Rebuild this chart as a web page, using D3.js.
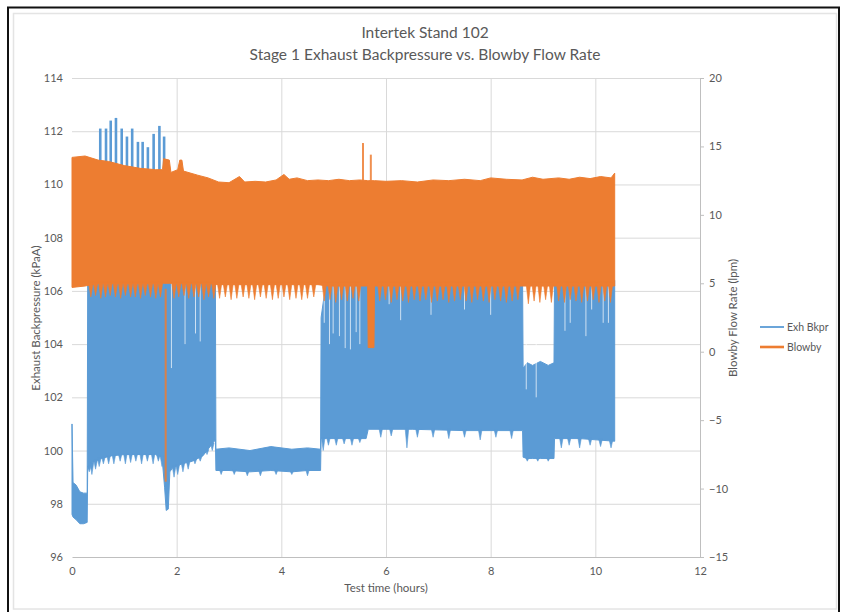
<!DOCTYPE html>
<html>
<head>
<meta charset="utf-8">
<script src="https://cdn.jsdelivr.net/npm/d3@7"></script>
<style>
  body { margin: 0; background: #fff; }
  text { font-family: Lato, "Open Sans", sans-serif; fill: #595959; }
</style>
</head>
<body>
<div id="chart"></div>
<script>
// ---- data ----
const xTicks = [0, 2, 4, 6, 8, 10, 12];
const leftTicks = [96, 98, 100, 102, 104, 106, 108, 110, 112, 114];
const rightTicks = [-15, -10, -5, 0, 5, 10, 15, 20];

// Exhaust backpressure (kPaA): envelope of the dense trace
const blueT  = [0.00, 0.02, 0.08, 0.15, 0.22, 0.29, 0.30, 0.40, 0.55, 0.75, 1.00, 1.30, 1.60, 1.72, 1.77, 1.80, 1.84, 1.87, 1.92, 2.10, 2.30, 2.50, 2.62, 2.70, 2.74, 2.75, 3.00, 3.40, 3.80, 4.20, 4.50, 4.75, 4.76, 4.86, 5.20, 5.62, 5.66, 6.50, 7.50, 8.61, 8.62, 8.70, 8.80, 8.95, 9.10, 9.21, 9.22, 9.70, 10.37];
const blueLo = [97.6, 97.5, 97.4, 97.25, 97.25, 97.3, 99.3, 99.55, 99.7, 99.8, 99.85, 99.85, 99.85, 99.75, 98.6, 97.75, 97.8, 99.2, 99.35, 99.5, 99.6, 99.8, 100.1, 100.3, 100.4, 99.25, 99.25, 99.2, 99.25, 99.2, 99.25, 99.25, 100.45, 100.45, 100.45, 100.45, 100.8, 100.8, 100.75, 100.75, 99.75, 99.7, 99.7, 99.7, 99.7, 99.7, 100.45, 100.45, 100.35];
const blueHi = [101.0, 98.8, 98.7, 98.45, 98.4, 98.4, 106.4, 106.4, 106.4, 106.4, 106.4, 106.4, 106.4, 106.4, 106.4, 106.4, 106.4, 106.4, 106.3, 106.3, 106.3, 106.3, 106.3, 106.3, 106.3, 100.05, 100.1, 100.0, 100.15, 100.05, 100.1, 100.05, 105.0, 106.4, 106.4, 106.4, 106.4, 106.4, 106.4, 106.4, 103.1, 103.3, 103.2, 103.35, 103.2, 103.3, 106.4, 106.4, 106.4];
// isolated peaks above the band
const blueSpikeT   = [0.54, 0.65, 0.74, 0.84, 0.95, 1.05, 1.15, 1.26, 1.35, 1.45, 1.56, 1.67, 1.76];
const blueSpikeTop = [112.1, 112.1, 112.4, 112.5, 112.1, 111.8, 112.1, 111.6, 111.6, 111.4, 111.9, 112.2, 111.8];
// dips below the band's lower edge
const blueDipT   = [0.33, 0.38, 0.45, 0.52, 0.60, 0.70, 0.80, 0.92, 1.02, 1.12, 1.22, 1.33, 1.44, 1.55, 1.65, 1.72, 1.95, 2.02, 2.12, 2.22, 2.35, 2.45, 2.58, 2.68, 2.85, 3.10, 3.35, 3.60, 3.90, 4.20, 4.50, 4.80, 4.90, 5.05, 5.20, 5.35, 5.50, 5.90, 6.10, 6.40, 6.60, 6.90, 7.20, 7.50, 7.80, 8.10, 8.40, 8.70, 8.90, 9.10, 9.35, 9.50, 9.70, 9.90, 10.10, 10.30];
const blueDipLow = [99.2, 99.1, 99.3, 99.4, 99.5, 99.5, 99.5, 99.6, 99.5, 99.55, 99.6, 99.5, 99.6, 99.5, 99.6, 99.4, 99.0, 99.1, 99.2, 99.3, 99.5, 99.6, 99.85, 100.0, 99.1, 99.1, 99.05, 99.05, 99.1, 99.1, 99.05, 100.0, 100.2, 100.2, 100.25, 100.2, 100.3, 100.5, 100.55, 100.1, 100.5, 100.5, 100.45, 100.5, 100.4, 100.5, 100.45, 99.6, 99.6, 99.6, 100.1, 100.2, 100.1, 100.2, 100.15, 100.1];
// thin gaps reaching down into the band from its top
const blueGapT   = [1.90, 2.16, 2.36, 2.45, 4.82, 4.92, 4.99, 5.11, 5.22, 5.32, 5.43, 5.50, 6.06, 6.28, 6.86, 7.50, 8.00, 8.68, 8.87, 9.42, 9.52, 9.82, 9.93, 10.15, 10.25];
const blueGapLow = [103.1, 104.0, 104.4, 104.1, 104.8, 104.0, 104.4, 104.3, 103.85, 103.8, 104.45, 104.0, 105.5, 104.9, 105.1, 105.3, 105.1, 102.3, 102.0, 104.5, 104.8, 104.3, 105.3, 104.8, 104.8];

// Blowby flow rate (lpm): envelope of the dense trace
const orangeT  = [0.00, 0.25, 0.50, 0.70, 1.00, 1.30, 1.60, 1.73, 1.75, 1.86, 1.89, 2.02, 2.06, 2.10, 2.13, 2.40, 2.60, 2.80, 3.00, 3.20, 3.30, 3.50, 3.70, 3.90, 4.05, 4.15, 4.30, 4.50, 4.70, 4.90, 5.10, 5.30, 5.50, 5.65, 5.66, 5.77, 5.78, 6.00, 6.30, 6.60, 6.90, 7.20, 7.50, 7.80, 8.00, 8.30, 8.60, 8.80, 9.00, 9.30, 9.50, 9.70, 9.90, 10.10, 10.30, 10.37];
const orangeLo = [4.7, 4.8, 5.0, 5.0, 5.0, 5.0, 5.0, 5.0, 5.0, 5.0, 5.0, 5.0, 5.0, 5.0, 5.0, 5.0, 5.0, 4.9, 4.9, 4.9, 4.9, 4.9, 4.9, 4.9, 4.9, 4.9, 4.9, 4.9, 4.9, 4.8, 4.8, 4.8, 4.8, 4.8, 0.3, 0.3, 4.8, 4.8, 4.8, 4.8, 4.8, 4.8, 4.8, 4.8, 4.8, 4.8, 4.8, 4.8, 4.8, 4.8, 4.8, 4.8, 4.8, 4.8, 4.8, 4.8];
const orangeHi = [14.2, 14.3, 14.0, 13.9, 13.6, 13.4, 13.3, 13.3, 14.1, 14.0, 13.1, 13.3, 14.0, 14.0, 13.2, 12.9, 12.7, 12.4, 12.35, 12.8, 12.4, 12.45, 12.4, 12.55, 12.95, 12.6, 12.7, 12.5, 12.55, 12.5, 12.6, 12.5, 12.55, 12.5, 12.5, 12.5, 12.5, 12.45, 12.5, 12.4, 12.55, 12.5, 12.6, 12.5, 12.7, 12.6, 12.55, 12.75, 12.6, 12.7, 12.6, 12.75, 12.65, 12.8, 12.7, 13.05];
// downward teeth along the lower edge
const orangeToothT = [0.36, 0.45, 0.55, 0.64, 0.73, 0.83, 0.93, 1.02, 1.12, 1.21, 1.31, 1.40, 1.50, 1.60, 1.69, 1.95, 2.04, 2.14, 2.23, 2.33, 2.42, 2.52, 2.61, 2.71, 2.82, 2.93, 3.04, 3.15, 3.27, 3.38, 3.49, 3.60, 3.71, 3.83, 3.94, 4.05, 4.16, 4.28, 4.39, 4.50, 4.62, 4.82, 4.93, 5.04, 5.15, 5.26, 5.37, 5.48, 5.88, 5.99, 6.10, 6.21, 6.32, 6.43, 6.54, 6.65, 6.76, 6.87, 6.98, 7.09, 7.20, 7.31, 7.42, 7.53, 7.64, 7.75, 7.86, 7.97, 8.08, 8.19, 8.30, 8.41, 8.52, 8.72, 8.83, 8.94, 9.05, 9.16, 9.30, 9.41, 9.52, 9.63, 9.74, 9.85, 9.96, 10.07, 10.18, 10.29];
const orangeToothLow = [4.0, 4.1, 3.9, 4.0, 4.1, 4.0, 3.9, 4.1, 4.0, 4.0, 3.9, 4.1, 4.0, 3.9, 4.0, 3.9, 4.0, 4.1, 3.9, 4.0, 4.0, 3.8, 4.0, 3.9, 3.9, 4.0, 3.8, 3.9, 4.0, 3.9, 3.8, 4.0, 3.9, 3.8, 3.9, 4.0, 3.8, 3.9, 3.8, 3.9, 4.0, 3.7, 3.8, 3.6, 3.8, 3.7, 3.9, 3.7, 3.7, 3.8, 3.6, 3.8, 3.7, 3.6, 3.8, 3.7, 3.8, 3.6, 3.7, 3.8, 3.6, 3.7, 3.8, 3.7, 3.6, 3.8, 3.7, 3.6, 3.8, 3.7, 3.6, 3.7, 3.8, 3.5, 3.7, 3.6, 3.8, 3.6, 3.7, 3.6, 3.8, 3.7, 3.6, 3.7, 3.8, 3.6, 3.7, 3.6];
// isolated excursions (start value -> end value)
const orangeSpikeT    = [1.79, 5.56, 5.71];
const orangeSpikeFrom = [4.6, 12.5, 12.5];
const orangeSpikeTo   = [-9.5, 15.25, 14.4];

const seriesNames = ["Exh Bkpr", "Blowby"];

// ---- layout ----
const W = 841, H = 612;
const plot = { left: 72, right: 700, top: 78, bottom: 557 };
const blue = "#5B9BD5", orange = "#ED7D31", grid = "#D9D9D9";

const svg = d3.select("#chart").append("svg")
  .attr("width", W).attr("height", H);

// outer frame (screenshot border + chart area border)
svg.append("rect").attr("x", 13.5).attr("y", 13.5).attr("width", 823).attr("height", 595.5)
  .attr("fill", "none").attr("stroke", "#E4E4E4").attr("stroke-width", 1.5);
svg.append("path").attr("d", "M8,612 V7.5 H839 V612")
  .attr("fill", "none").attr("stroke", "#111").attr("stroke-width", 2);

const x = d3.scaleLinear().domain([0, 12]).range([plot.left, plot.right]);
const yL = d3.scaleLinear().domain([96, 114]).range([plot.bottom, plot.top]);
const yR = d3.scaleLinear().domain([-15, 20]).range([plot.bottom, plot.top]);

// gridlines
svg.append("g").selectAll("line").data(leftTicks.slice(1)).enter().append("line")
  .attr("x1", plot.left).attr("x2", plot.right)
  .attr("y1", d => yL(d) + 0.5).attr("y2", d => yL(d) + 0.5)
  .attr("stroke", grid).attr("stroke-width", 1);
svg.append("g").selectAll("line").data(xTicks.slice(1, -1)).enter().append("line")
  .attr("y1", plot.top).attr("y2", plot.bottom)
  .attr("x1", d => x(d) + 0.5).attr("x2", d => x(d) + 0.5)
  .attr("stroke", grid).attr("stroke-width", 1);

// small V shaped tooth hanging from (t, from) down/up to (t, to)
const tooth = (px, y0, y1, hw) => `M${px - hw},${y0} L${px},${y1} L${px + hw},${y0} Z`;

// blue band
const blueRows = blueT.map((t, i) => ({ t: t, lo: blueLo[i], hi: blueHi[i] }));
svg.append("path").datum(blueRows)
  .attr("fill", blue).attr("stroke", blue).attr("stroke-width", 1)
  .attr("d", d3.area().x(d => x(d.t)).y0(d => yL(d.lo)).y1(d => yL(d.hi)));

// lower edge of the band at a given time
const blueLoAt = t => {
  const i = d3.bisectRight(blueT, t);
  const a = Math.max(0, i - 1), b = Math.min(blueT.length - 1, i);
  const f = blueT[b] === blueT[a] ? 0 : (t - blueT[a]) / (blueT[b] - blueT[a]);
  return blueLo[a] + f * (blueLo[b] - blueLo[a]);
};

svg.append("g").selectAll("path").data(blueDipT).enter().append("path")
  .attr("d", (d, i) => tooth(x(d), yL(blueLoAt(d)) - 1, yL(blueDipLow[i]), 1.8))
  .attr("fill", blue).attr("stroke", blue).attr("stroke-width", 0.6);

svg.append("g").selectAll("line").data(blueGapT).enter().append("line")
  .attr("x1", d => x(d)).attr("x2", d => x(d))
  .attr("y1", yL(106.4)).attr("y2", (d, i) => yL(blueGapLow[i]))
  .attr("stroke", "#fff").attr("stroke-opacity", 0.7).attr("stroke-width", 1);

svg.append("g").selectAll("line").data(blueSpikeT).enter().append("line")
  .attr("x1", d => x(d)).attr("x2", d => x(d))
  .attr("y1", yL(106)).attr("y2", (d, i) => yL(blueSpikeTop[i]))
  .attr("stroke", blue).attr("stroke-width", 2.6);

// orange band on top
const orangeRows = orangeT.map((t, i) => ({ t: t, lo: orangeLo[i], hi: orangeHi[i] }));
svg.append("path").datum(orangeRows)
  .attr("fill", orange).attr("stroke", orange).attr("stroke-width", 1)
  .attr("d", d3.area().x(d => x(d.t)).y0(d => yR(d.lo)).y1(d => yR(d.hi)));

svg.append("g").selectAll("path").data(orangeToothT).enter().append("path")
  .attr("d", (d, i) => tooth(x(d), yR(5.1), yR(orangeToothLow[i]), 2.4))
  .attr("fill", orange).attr("stroke", orange).attr("stroke-width", 0.6);

svg.append("g").selectAll("line").data(orangeSpikeT).enter().append("line")
  .attr("x1", d => x(d)).attr("x2", d => x(d))
  .attr("y1", (d, i) => yR(orangeSpikeFrom[i])).attr("y2", (d, i) => yR(orangeSpikeTo[i]))
  .attr("stroke", orange).attr("stroke-width", 2).attr("stroke-opacity", 0.85);

// axes
const axL = svg.append("g").attr("transform", `translate(${plot.left},0)`)
  .call(d3.axisLeft(yL).tickValues(leftTicks).tickSize(0).tickPadding(9));
const axR = svg.append("g").attr("transform", `translate(${plot.right},0)`)
  .call(d3.axisRight(yR).tickValues(rightTicks).tickSize(4).tickSizeOuter(0).tickPadding(5));
const axB = svg.append("g").attr("transform", `translate(0,${plot.bottom})`)
  .call(d3.axisBottom(x).tickValues(xTicks).tickSize(0).tickPadding(10));

axL.select(".domain").remove();
axR.select(".domain").attr("stroke", "#BFBFBF");
axR.selectAll(".tick line").attr("stroke", "#BFBFBF");
axB.select(".domain").attr("stroke", "#BFBFBF");
[axL, axR, axB].forEach(a => a.selectAll("text")
  .style("font-size", "11px").style("font-family", "Lato, sans-serif").attr("fill", "#595959"));

// titles
svg.append("text").attr("x", 425).attr("y", 38).attr("text-anchor", "middle")
  .style("font-size", "15.5px").text("Intertek Stand 102");
svg.append("text").attr("x", 425).attr("y", 60).attr("text-anchor", "middle")
  .style("font-size", "15.5px").text("Stage 1 Exhaust Backpressure vs. Blowby Flow Rate");

svg.append("text").attr("transform", "translate(40,318) rotate(-90)").attr("text-anchor", "middle")
  .style("font-size", "11.5px").text("Exhaust Backpressure (kPaA)");
svg.append("text").attr("transform", "translate(737,318) rotate(-90)").attr("text-anchor", "middle")
  .style("font-size", "11.5px").text("Blowby Flow Rate (lpm)");
svg.append("text").attr("x", 386).attr("y", 592).attr("text-anchor", "middle")
  .style("font-size", "11.5px").text("Test time (hours)");

// legend
const legend = svg.append("g");
[blue, orange].forEach((c, i) => {
  const ly = 327 + i * 20;
  legend.append("line").attr("x1", 760).attr("x2", 784).attr("y1", ly).attr("y2", ly)
    .attr("stroke", c).attr("stroke-width", i === 0 ? 1.8 : 2.6);
  legend.append("text").attr("x", 787).attr("y", ly).attr("dy", "0.35em")
    .style("font-size", "10.5px").text(seriesNames[i]);
});
</script>
</body>
</html>
